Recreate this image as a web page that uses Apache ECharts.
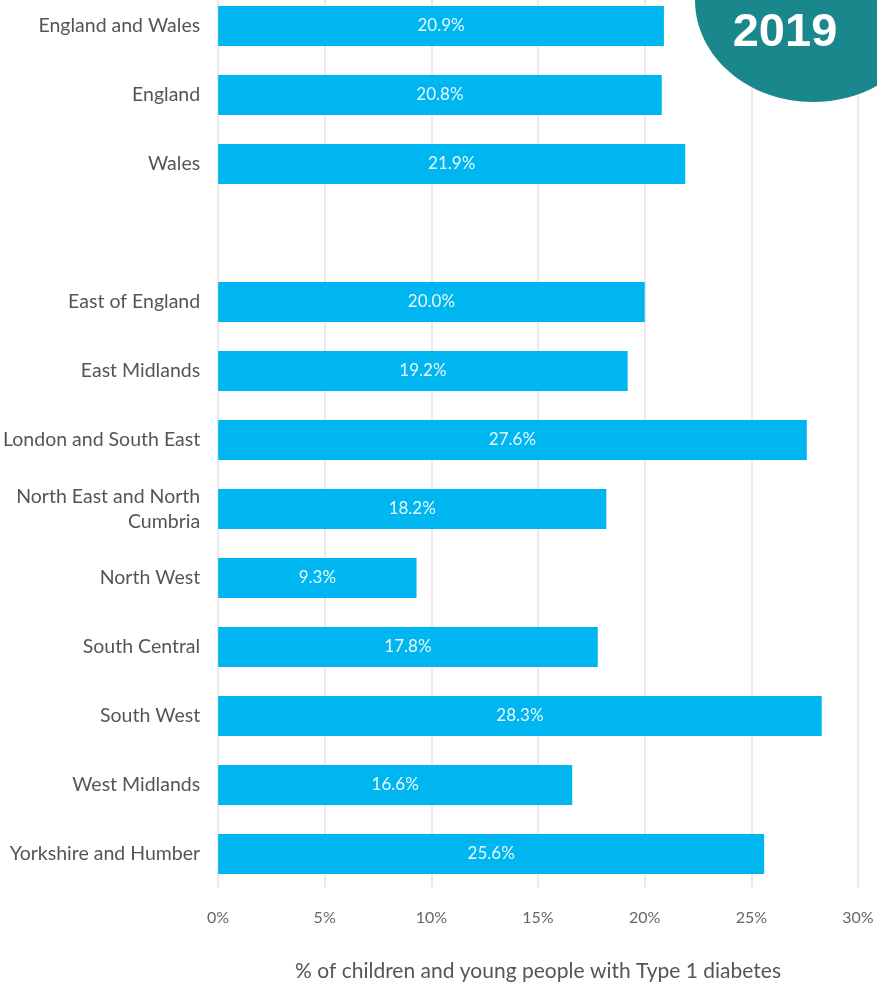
<!DOCTYPE html>
<html>
<head>
<meta charset="utf-8">
<script src="https://cdn.jsdelivr.net/npm/echarts@6/dist/echarts.min.js"></script>
<style>
html,body{margin:0;padding:0;background:#fff;}
#c{width:877px;height:989px;}
</style>
</head>
<body>
<div id="c"></div>
<script>
const categories = ['England and Wales','England','Wales','','East of England','East Midlands','London and South East','North East and North\nCumbria','North West','South Central','South West','West Midlands','Yorkshire and Humber'];
const values = [20.9, 20.8, 21.9, null, 20.0, 19.2, 27.6, 18.2, 9.3, 17.8, 28.3, 16.6, 25.6];
const xTicks = [0, 5, 10, 15, 20, 25, 30];
const badgeText = '2019';
const axisTitle = '% of children and young people with Type 1 diabetes';

const xMin = xTicks[0], xMax = xTicks[xTicks.length-1];
const chart = echarts.init(document.getElementById('c'));
chart.setOption({
  animation: false,
  grid: [
    {left: 218, right: 19, top: 0, bottom: 101},
    {left: 218, right: 19, top: 26, bottom: 135}
  ],
  xAxis: [{
    gridIndex: 0, type: 'value', min: xMin, max: xMax, interval: 5,
    axisLine: {show: false}, axisTick: {show: false},
    splitLine: {lineStyle: {color: '#e3e3e3', width: 1.5}},
    axisLabel: {formatter: v => v + '%', color: '#666', fontSize: 16, fontFamily: 'Lato', margin: 22},
    name: axisTitle, nameLocation: 'middle', nameGap: 73,
    nameTextStyle: {color: '#555', fontSize: 21, fontFamily: 'Lato'}
  }, {
    gridIndex: 1, type: 'value', min: xMin, max: xMax, interval: 5, show: false,
    splitLine: {show: false}
  }],
  yAxis: [{
    gridIndex: 0, type: 'value', show: false, splitLine: {show: false}
  }, {
    gridIndex: 1, type: 'category', data: categories, inverse: true, boundaryGap: false,
    axisLine: {show: false}, axisTick: {show: false}, splitLine: {show: false},
    axisLabel: {color: '#555', fontSize: 19.5, fontFamily: 'Lato', margin: 18, lineHeight: 25}
  }],
  series: [{
    type: 'bar', xAxisIndex: 1, yAxisIndex: 1, data: values, barWidth: 40,
    itemStyle: {color: '#00b6f1'},
    label: {show: true, position: 'inside', formatter: p => p.value.toFixed(1) + '%',
      color: '#e8f8ff', fontSize: 17, fontFamily: 'Lato'}
  }],
  graphic: [
    {type: 'ellipse', z: 100, shape: {cx: 813, cy: 0, rx: 118, ry: 102}, style: {fill: '#1a878c'}},
    {type: 'text', z: 101, x: 785, y: 33, style: {text: badgeText, fill: '#fff', font: 'bold 47px Arial, "Liberation Sans"', textAlign: 'center', textVerticalAlign: 'middle'}}
  ]
});
</script>
</body>
</html>
